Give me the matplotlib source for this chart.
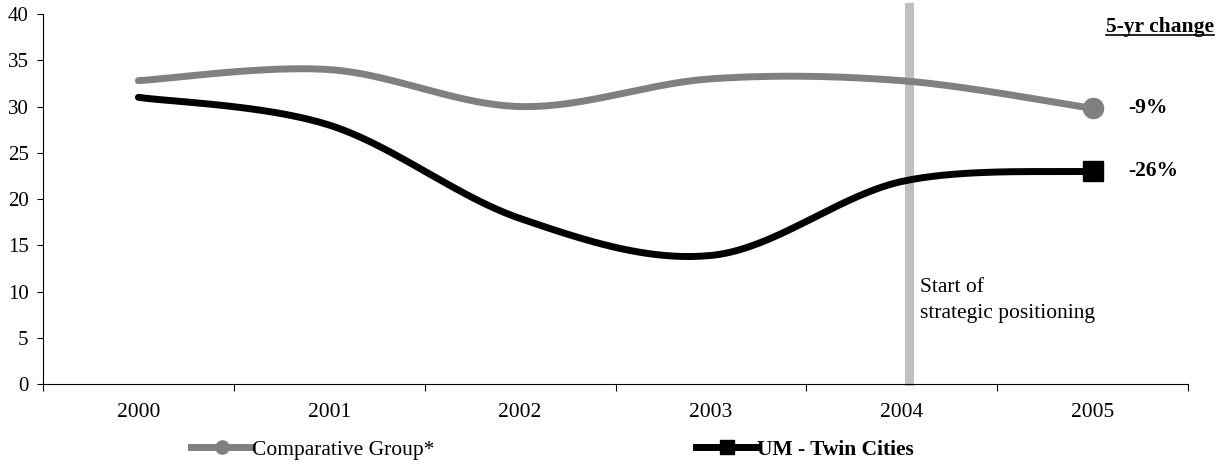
import numpy as np
import matplotlib
matplotlib.use('Agg')
import matplotlib.pyplot as plt
from matplotlib.lines import Line2D

plt.rcParams['font.family'] = ['Liberation Serif', 'DejaVu Serif']

years = ['2000', '2001', '2002', '2003', '2004', '2005']
comp_group = [32.8, 34.0, 30.0, 33.0, 32.8, 29.8]
um_twin = [31.0, 28.0, 17.9, 13.9, 21.9, 23.0]
changes = ['-9%', '-26%']
start_idx = 4.04


def smooth(y, n=40):
	# excel-like smoothing: bezier through the points, catmull-rom control points
	x = np.arange(len(y), dtype=float)
	y = np.asarray(y, dtype=float)
	P = np.column_stack([x, y])
	Pe = np.vstack([P[0], P, P[-1]])
	t = np.linspace(0, 1, n)[:, None]
	out = []
	for i in range(len(P) - 1):
		p0, p1, p2, p3 = Pe[i], Pe[i+1], Pe[i+2], Pe[i+3]
		c1 = p1 + (p2 - p0) / 6
		c2 = p2 - (p3 - p1) / 6
		seg = ((1-t)**3)*p1 + 3*((1-t)**2)*t*c1 + 3*(1-t)*(t**2)*c2 + (t**3)*p2
		out.append(seg if i == 0 else seg[1:])
	out = np.vstack(out)
	return out[:, 0], out[:, 1]


fig = plt.figure(figsize=(12.28, 4.70), dpi=100)
ax = fig.add_axes([0.035, 0.183, 0.9325, 0.787])

gray = '#808080'
ax.axvline(start_idx, ymin=0.008, ymax=1.019, color='#c0c0c0', lw=6.5, clip_on=False, zorder=1)

xs, ys = smooth(comp_group)
ax.plot(xs, ys, color=gray, lw=5, solid_capstyle='round', zorder=2)
ax.plot([5], [comp_group[-1]], marker='o', ms=14.5, color=gray, zorder=3)

xs, ys = smooth(um_twin)
ax.plot(xs, ys, color='black', lw=5, solid_capstyle='round', zorder=2)
ax.plot([5], [um_twin[-1]], marker='s', ms=14.5, color='black', zorder=3)

ax.set_xlim(-0.5, 5.5)
ax.set_ylim(0, 40)
ax.set_yticks(np.arange(0, 41, 5))
ax.set_xticks(np.arange(len(years)))
ax.set_xticklabels(years)
ax.set_xticks(np.arange(-0.5, 6, 1), minor=True)
ax.tick_params(axis='x', which='major', length=0, pad=14, labelsize=15.5)
ax.tick_params(axis='x', which='minor', length=5, width=0.8)
ax.tick_params(axis='y', length=4.3, width=0.8, labelsize=15, pad=6)
for s in ['top', 'right']:
	ax.spines[s].set_visible(False)
for s in ['left', 'bottom']:
	ax.spines[s].set_linewidth(0.8)

ax.text(4.095, 11.5, 'Start of\nstrategic positioning', fontsize=15.5,
	va='top', ha='left', linespacing=1.5)

for v, lab in zip([comp_group[-1], um_twin[-1]], changes):
	ax.text(5.185, v, lab, fontsize=15.5, fontweight='bold', va='center', ha='left')

hdr = fig.text(0.9886, 0.9426, '5-yr change', fontsize=15.5, fontweight='bold', ha='right', va='center')
fig.canvas.draw()
bb = hdr.get_window_extent().transformed(fig.transFigure.inverted())
fig.add_artist(Line2D([bb.x0, bb.x1], [0.9255, 0.9255], color='black', lw=1.2,
	transform=fig.transFigure))

comp_handle = Line2D([], [], color=gray, lw=5, marker='o', ms=9.5)
um_handle = Line2D([], [], color='black', lw=5, marker='s', ms=10)
leg1 = fig.legend([comp_handle], ['Comparative Group*'], loc='center left',
	bbox_to_anchor=(191 / 1228, 0.0426), frameon=False, fontsize=15.5,
	handlelength=2.84, handletextpad=0.0, numpoints=1, borderpad=0, borderaxespad=0)
leg2 = fig.legend([um_handle], ['UM - Twin Cities'], loc='center left',
	bbox_to_anchor=(696 / 1228, 0.0426), frameon=False, fontsize=15.5,
	handlelength=2.84, handletextpad=0.0, numpoints=1, borderpad=0, borderaxespad=0)
leg2.get_texts()[0].set_fontweight('bold')

fig.savefig('out.png', dpi=100)
